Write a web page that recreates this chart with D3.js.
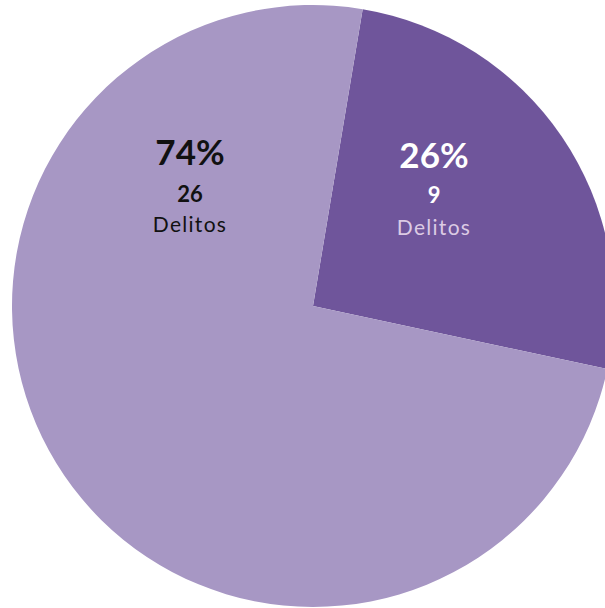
<!DOCTYPE html>
<html><head><meta charset="utf-8">
<script src="https://cdn.jsdelivr.net/npm/d3@7"></script>
<style>html,body{margin:0;padding:0;background:#fff;}svg{display:block;}</style>
</head><body>
<svg id="chart" width="605" height="608"></svg>
<script>
const categories = ["A", "B"];
const values = [9, 26];
const percents = ["26%", "74%"];
const unitLabel = "Delitos";
const colors = ["#6f559b", "#a797c4"];

const svg = d3.select("#chart");
const cx = 313, cy = 306, r = 301;
const startOffset = 9.5 * Math.PI / 180;

const pie = d3.pie().sort(null).value(d => d)
  .startAngle(startOffset).endAngle(startOffset + 2 * Math.PI);
const arcs = pie(values);
const arc = d3.arc().innerRadius(0).outerRadius(r);

const g = svg.append("g").attr("transform", `translate(${cx},${cy})`);
g.selectAll("path").data(arcs).enter().append("path")
  .attr("d", arc).attr("fill", (d, i) => colors[i]);

const font = "Lato, 'Open Sans', sans-serif";
const labelX = [434, 190];
const baseY = [[168, 203, 235], [165, 202, 232]];
const textCol = [["#ffffff", "#ffffff", "#dccbe4"], ["#111111", "#111111", "#111111"]];
arcs.forEach((d, i) => {
  const lg = svg.append("g").attr("transform", `translate(${labelX[i]},0)`);
  lg.append("text").attr("x", 0).attr("y", baseY[i][0])
    .attr("text-anchor", "middle").attr("font-family", font)
    .attr("font-weight", "bold").attr("font-size", 35)
    .attr("fill", textCol[i][0]).text(percents[i]);
  lg.append("text").attr("x", 0).attr("y", baseY[i][1])
    .attr("text-anchor", "middle").attr("font-family", font)
    .attr("font-weight", "bold").attr("font-size", 22)
    .attr("fill", textCol[i][1]).text(values[i]);
  lg.append("text").attr("x", 0).attr("y", baseY[i][2])
    .attr("text-anchor", "middle").attr("font-family", font)
    .attr("font-size", 21).attr("letter-spacing", 1.3)
    .attr("fill", textCol[i][2]).text(unitLabel);
});
</script>
</body></html>
